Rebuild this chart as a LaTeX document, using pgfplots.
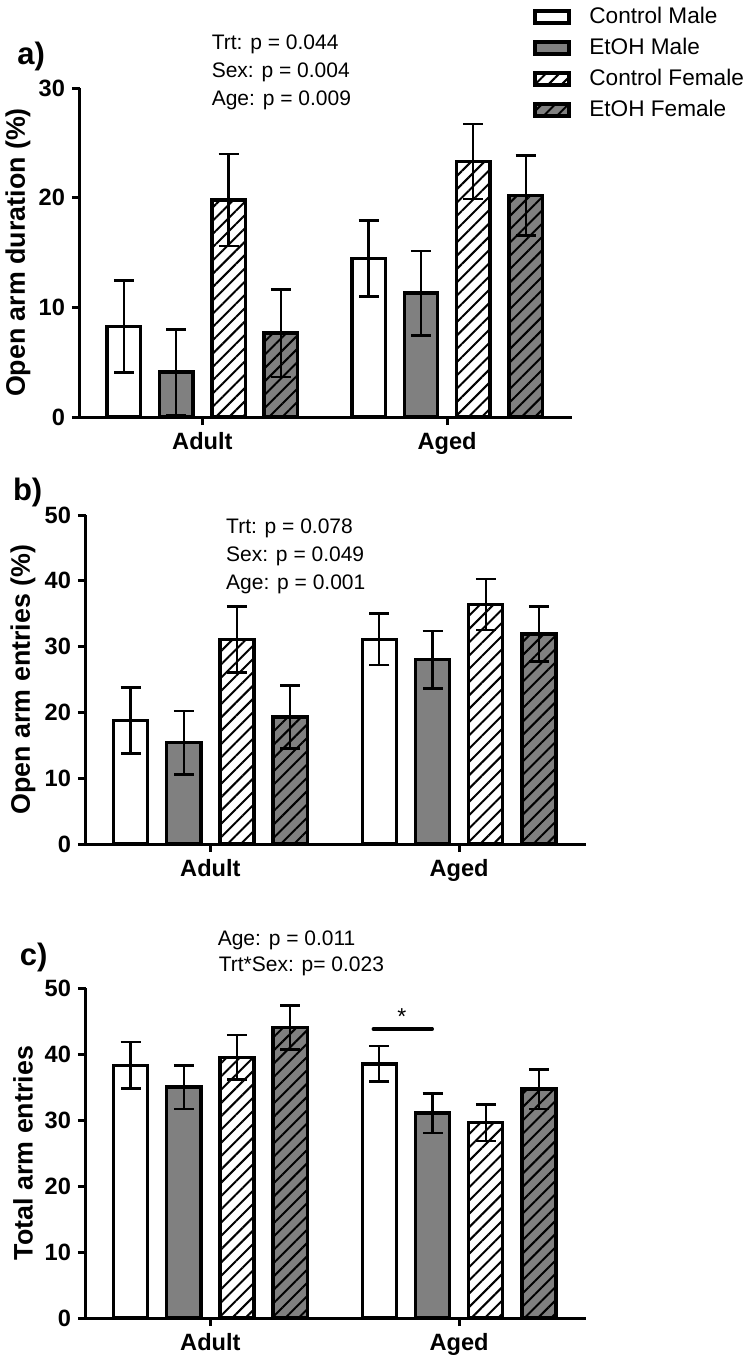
\documentclass[border=0pt]{standalone}
\usepackage{fontspec}
\setmainfont{Liberation Sans}
\usepackage{pgfplots}
\pgfplotsset{compat=1.18}
\usepackage{pgfplotstable}
\usetikzlibrary{patterns.meta}
\definecolor{etoh}{RGB}{128,128,128}

% columns: x, Control Male (mean, SEM), EtOH Male, Control Female, EtOH Female
\pgfplotstableread{
x cm cmE em emE cf cfE ef efE
0 8.25 4.2 4.1 3.9 19.8 4.2 7.65 4.0
1 14.45 3.45 11.3 3.85 23.3 3.42 20.2 3.65
}\dataA
\pgfplotstableread{
x cm cmE em emE cf cfE ef efE
0 18.8 5.0 15.4 4.8 31.1 5.0 19.3 4.75
1 31.1 3.9 28.0 4.35 36.4 3.9 31.9 4.2
}\dataB
\pgfplotstableread{
x cm cmE em emE cf cfE ef efE
0 38.3 3.5 35.0 3.3 39.5 3.4 44.0 3.35
1 38.5 2.7 31.05 3.0 29.6 2.75 34.7 3.0
}\dataC

\pgfplotsset{
  panel/.style={
    scale only axis, ybar, bar width=0.137,
    xmin=-0.5, xmax=1.51, ymin=0,
    axis x line*=bottom, axis y line*=left,
    axis line style={line width=1.5pt, black},
    xtick={0,1}, xticklabels={Adult,Aged},
    tick align=outside, major tick length=4pt,
    tick style={line width=1.5pt, black},
    minor tick num=0,
    /pgf/number format/assume math mode=true,
    y tick label style={font=\fontsize{11.8}{13}\selectfont\bfseries},
    x tick label style={font=\fontsize{11.8}{13}\selectfont\bfseries},
    ylabel style={at={(axis description cs:-0.126,0.5)}, anchor=center,
      font=\fontsize{13.4}{15}\selectfont\bfseries},
    clip=false,
    legend image code/.code={\draw[##1, line width=2pt] (0pt,-3pt) rectangle (17pt,3pt);},
  },
  errs/.style={error bars/.cd, y dir=both, y explicit,
    error bar style={line width=1.1pt, black},
    error mark options={rotate=90, mark size=5pt, line width=1.3pt, black}},
  cmS/.style={fill=white, draw=black, line width=1.7pt, bar shift=-0.321},
  emS/.style={fill=etoh, draw=black, line width=1.7pt, bar shift=-0.107},
  cfS/.style={fill=white, draw=black, line width=1.7pt, bar shift=0.107,
    postaction={pattern={Lines[angle=45,distance=4.7pt,line width=1pt]}, pattern color=black}},
  efS/.style={fill=etoh, draw=black, line width=1.7pt, bar shift=0.321,
    postaction={pattern={Lines[angle=45,distance=4.7pt,line width=1pt]}, pattern color=black}},
}

\begin{document}
\begin{tikzpicture}
\path[use as bounding box] (0pt,0pt) rectangle (376.5pt,-682pt);

% ---------------- panel a
\begin{axis}[panel, at={(40pt,-208.5pt)}, anchor=south west,
  width=246pt, height=164.5pt, ymax=30, ytick={0,10,20,30},
  ylabel={Open arm duration (\%)},
  legend style={at={(0.9207,1.2596)}, anchor=north west, draw=none, fill=none,
    inner sep=0pt, font=\fontsize{11.3}{13}\selectfont, row sep=1.8pt,
    /tikz/every odd column/.append style={column sep=7pt}},
  legend cell align=left]
\addplot[cmS, errs] table[x=x, y=cm, y error=cmE] {\dataA};
\addplot[emS, errs] table[x=x, y=em, y error=emE] {\dataA};
\addplot[cfS, errs] table[x=x, y=cf, y error=cfE] {\dataA};
\addplot[efS, errs] table[x=x, y=ef, y error=efE] {\dataA};
\legend{Control Male, EtOH Male, Control Female, EtOH Female}
\end{axis}

% ---------------- panel b
\begin{axis}[panel, at={(43pt,-422pt)}, anchor=south west,
  width=250pt, height=164.5pt, ymax=50, ytick={0,10,20,30,40,50},
  ylabel={Open arm entries (\%)}]
\addplot[cmS, errs] table[x=x, y=cm, y error=cmE] {\dataB};
\addplot[emS, errs] table[x=x, y=em, y error=emE] {\dataB};
\addplot[cfS, errs] table[x=x, y=cf, y error=cfE] {\dataB};
\addplot[efS, errs] table[x=x, y=ef, y error=efE] {\dataB};
\end{axis}

% ---------------- panel c
\begin{axis}[panel, at={(43pt,-659pt)}, anchor=south west,
  width=250pt, height=165pt, ymax=50, ytick={0,10,20,30,40,50},
  ylabel={Total arm entries}]
\addplot[cmS, errs] table[x=x, y=cm, y error=cmE] {\dataC};
\addplot[emS, errs] table[x=x, y=em, y error=emE] {\dataC};
\addplot[cfS, errs] table[x=x, y=cf, y error=cfE] {\dataC};
\addplot[efS, errs] table[x=x, y=ef, y error=efE] {\dataC};
\draw[line width=1.7pt, line cap=round] (axis cs:0.655,43.8) -- (axis cs:0.892,43.8);
\node[anchor=base, inner sep=0pt, font=\fontsize{11.5}{12}\selectfont] at (axis cs:0.77,44.5) {*};
\end{axis}

% panel letters
\node[anchor=base west, inner sep=0pt, font=\fontsize{15.5}{17}\selectfont\bfseries] at (8.5pt,-32.5pt) {a)};
\node[anchor=base west, inner sep=0pt, font=\fontsize{15.5}{17}\selectfont\bfseries] at (6.3pt,-250pt) {b)};
\node[anchor=base west, inner sep=0pt, font=\fontsize{15.5}{17}\selectfont\bfseries] at (9.7pt,-482.5pt) {c)};

% statistics text
\begin{scope}[every node/.style={anchor=base west, inner sep=0pt, font=\fontsize{10.5}{12}\selectfont}]
\node at (105.7pt,-25pt) {Trt: p = 0.044};
\node at (105.7pt,-39pt) {Sex: p = 0.004};
\node at (105.7pt,-53pt) {Age: p = 0.009};
\node at (112.9pt,-266.5pt) {Trt: p = 0.078};
\node at (112.9pt,-280.9pt) {Sex: p = 0.049};
\node at (112.9pt,-294.7pt) {Age: p = 0.001};
\node at (108.7pt,-472.5pt) {Age: p = 0.011};
\node at (109.2pt,-485.9pt) {Trt*Sex: p= 0.023};
\end{scope}
\end{tikzpicture}
\end{document}
